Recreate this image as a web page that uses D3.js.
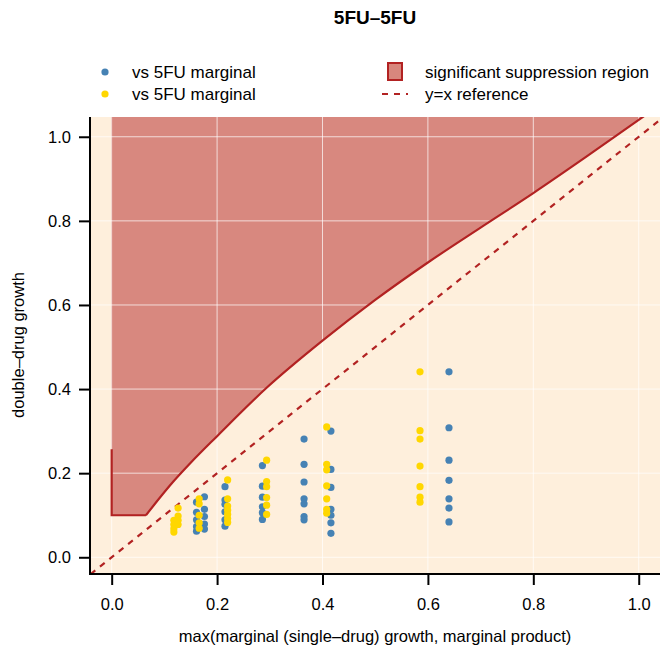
<!DOCTYPE html>
<html><head><meta charset="utf-8">
<script src="https://cdn.jsdelivr.net/npm/d3@7"></script>
<style>body{margin:0;background:#fff;} svg text{font-family:"Liberation Sans",Arial,Helvetica,sans-serif;}</style>
</head><body>
<svg id="c" width="660" height="659"></svg>
<script>
// ---- data ----
const title = "5FU–5FU";
const xLabel = "max(marginal (single–drug) growth, marginal product)";
const yLabel = "double–drug growth";
const xTicks = [0, 0.2, 0.4, 0.6, 0.8, 1.0];
const yTicks = [0, 0.2, 0.4, 0.6, 0.8, 1.0];
const legendLabels = ["vs 5FU marginal", "vs 5FU marginal", "significant suppression region", "y=x reference"];

// blue series: [marginal, double-drug growth]
const blueX = [0.161,0.161,0.161,0.161,0.161, 0.176,0.176,0.176,0.176,0.176,
  0.215,0.215,0.215,0.215,0.215,0.215,
  0.286,0.286,0.286,0.286,0.286,0.286,
  0.365,0.365,0.365,0.365,0.365,0.365,0.365,
  0.416,0.416,0.416,0.416,0.416,0.416,0.416,
  0.640,0.640,0.640,0.640,0.640,0.640,0.640];
const blueY = [0.131,0.107,0.089,0.073,0.062, 0.144,0.114,0.097,0.079,0.067,
  0.168,0.136,0.126,0.108,0.089,0.074,
  0.218,0.169,0.143,0.120,0.106,0.090,
  0.281,0.221,0.179,0.139,0.127,0.097,0.089,
  0.300,0.209,0.166,0.114,0.100,0.082,0.057,
  0.441,0.308,0.231,0.183,0.139,0.117,0.084];
// yellow series
const yellowX = [0.126,0.126,0.126,0.126,0.118,0.118,0.118,0.118,
  0.166,0.166,0.166,0.166,0.166,
  0.220,0.220,0.220,0.220,0.220,0.220,0.220,
  0.294,0.294,0.294,0.294,0.294,0.294,
  0.408,0.408,0.408,0.408,0.408,0.408,0.408,
  0.585,0.585,0.585,0.585,0.585,0.585,0.585];
const yellowY = [0.117,0.098,0.088,0.078,0.088,0.078,0.068,0.060,
  0.139,0.127,0.100,0.082,0.069,
  0.184,0.139,0.122,0.112,0.102,0.092,0.083,
  0.231,0.180,0.168,0.142,0.124,0.102,
  0.310,0.221,0.208,0.170,0.139,0.114,0.105,
  0.441,0.301,0.281,0.217,0.168,0.143,0.131];

// suppression boundary: left step, then curved lower edge
const stepX = [0, 0, 0.065];
const stepY = [0.257, 0.100, 0.100];
const curveX = [0.065, 0.117, 0.149, 0.200, 0.294, 0.400, 0.500, 0.600, 0.700, 0.800, 0.900, 1.000, 1.060];
const curveY = [0.100, 0.180, 0.2235, 0.288, 0.403, 0.515, 0.612, 0.701, 0.784, 0.866, 0.952, 1.040, 1.094];

// ---- drawing ----
const svg = d3.select("#c");
const x = d3.scaleLinear().domain([-0.04, 1.04]).range([90.6, 659.8]);
const y = d3.scaleLinear().domain([-0.04, 1.047]).range([574.1, 117]);
const X0 = 90, X1 = 660, Y0 = 117, Y1 = 574;
const fire = "#B22222";

svg.append("defs").append("clipPath").attr("id","clip")
  .append("rect").attr("x",X0).attr("y",Y0).attr("width",X1-X0).attr("height",Y1-Y0);

svg.append("rect").attr("x",X0).attr("y",Y0).attr("width",X1-X0).attr("height",Y1-Y0).attr("fill","#FEEFDC");

const g = svg.append("g").attr("clip-path","url(#clip)");

const stepLine = d3.line().x((d,i)=>x(stepX[i])).y((d,i)=>y(stepY[i]));
const curveLine = d3.line().x((d,i)=>x(curveX[i])).y((d,i)=>y(curveY[i])).curve(d3.curveMonotoneX);
const curvePath = curveLine(curveX);

// region polygon
const polyTop = 1.2;
const polyD = `M${x(0)},${y(polyTop)}L${x(0)},${y(0.1)}L${x(curveX[0])},${y(curveY[0])}` +
  curvePath.replace(/^M[^CLc]*/, "") +
  `L${x(curveX[curveX.length-1])},${y(polyTop)}Z`;
g.append("path").attr("d", polyD)
  .attr("fill", fire).attr("fill-opacity", 0.5)
  .attr("stroke", fire).attr("stroke-opacity",0.35).attr("stroke-width",1);

// grid
g.selectAll(".gx").data(xTicks).enter().append("line")
  .attr("x1",d=>x(d)).attr("x2",d=>x(d)).attr("y1",Y0).attr("y2",Y1)
  .attr("stroke","#fff").attr("stroke-opacity",0.7).attr("stroke-width",1);
g.selectAll(".gy").data(yTicks).enter().append("line")
  .attr("y1",d=>y(d)).attr("y2",d=>y(d)).attr("x1",X0).attr("x2",X1)
  .attr("stroke","#fff").attr("stroke-opacity",0.7).attr("stroke-width",1);

// boundary lines
g.append("path").attr("d", stepLine(stepX))
  .attr("fill","none").attr("stroke",fire).attr("stroke-width",2.2);
g.append("path").attr("d", curvePath)
  .attr("fill","none").attr("stroke",fire).attr("stroke-width",2.2);

// y = x reference
g.append("line").attr("x1",x(-0.04)).attr("y1",y(-0.04)).attr("x2",x(1.1)).attr("y2",y(1.1))
  .attr("stroke",fire).attr("stroke-width",2.2).attr("stroke-dasharray","6,6");

// points
g.selectAll(".pb").data(blueX).enter().append("circle")
  .attr("cx",(d,i)=>x(blueX[i])).attr("cy",(d,i)=>y(blueY[i])).attr("r",3.6).attr("fill","#4682B4");
g.selectAll(".py").data(yellowX).enter().append("circle")
  .attr("cx",(d,i)=>x(yellowX[i])).attr("cy",(d,i)=>y(yellowY[i])).attr("r",3.6).attr("fill","#FFD700");

// axes
const fmt = d3.format(".1f");
const ax = svg.append("g").attr("transform",`translate(0,${Y1})`)
  .call(d3.axisBottom(x).tickValues(xTicks).tickFormat(fmt).tickSize(11).tickPadding(13));
const ay = svg.append("g").attr("transform",`translate(${X0},0)`)
  .call(d3.axisLeft(y).tickValues(yTicks).tickFormat(fmt).tickSize(11).tickPadding(8));
[ax, ay].forEach(a => {
  a.select(".domain").remove();
  a.selectAll(".tick line").attr("stroke","#000").attr("stroke-width",2);
  a.selectAll(".tick text").attr("font-size",16.5).attr("fill","#000")
   .style("font-family","'Liberation Sans',Arial,sans-serif");
});
svg.append("line").attr("x1",X0).attr("x2",X0).attr("y1",Y0).attr("y2",Y1+1).attr("stroke","#000").attr("stroke-width",2);
svg.append("line").attr("x1",X0-1).attr("x2",X1).attr("y1",Y1).attr("y2",Y1).attr("stroke","#000").attr("stroke-width",2);

// titles
svg.append("text").attr("x",375).attr("y",24).attr("text-anchor","middle")
  .attr("font-size",19).attr("font-weight","bold").text(title);
svg.append("text").attr("x",375).attr("y",642).attr("text-anchor","middle")
  .attr("font-size",16.5).text(xLabel);
svg.append("text").attr("transform","translate(24,345) rotate(-90)").attr("text-anchor","middle")
  .attr("font-size",16.5).text(yLabel);

// legend
const lg = svg.append("g");
lg.append("circle").attr("cx",105).attr("cy",72).attr("r",3.6).attr("fill","#4682B4");
lg.append("circle").attr("cx",105).attr("cy",94).attr("r",3.6).attr("fill","#FFD700");
lg.append("rect").attr("x",388).attr("y",63).attr("width",14).attr("height",17)
  .attr("fill","#D8877D").attr("stroke",fire).attr("stroke-width",2);
lg.append("line").attr("x1",381).attr("x2",408).attr("y1",94).attr("y2",94)
  .attr("stroke",fire).attr("stroke-width",2.2).attr("stroke-dasharray","6,6").attr("stroke-dashoffset",-1);
const lt = [[132,78,legendLabels[0]],[132,100,legendLabels[1]],[425,78,legendLabels[2]],[425,100,legendLabels[3]]];
lt.forEach(d => lg.append("text").attr("x",d[0]).attr("y",d[1]).attr("font-size",17).text(d[2]));
</script>
</body></html>
